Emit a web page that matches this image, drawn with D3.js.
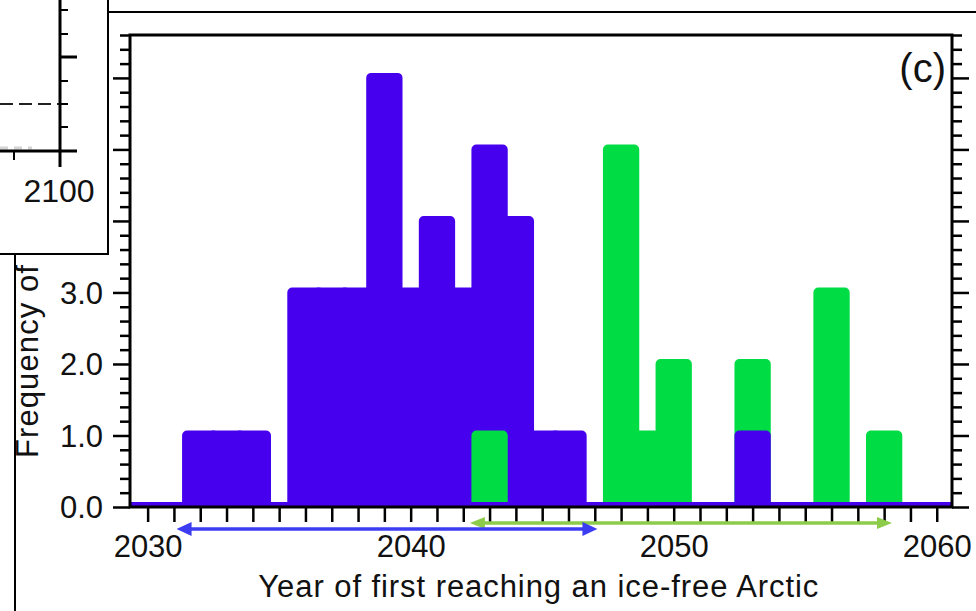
<!DOCTYPE html>
<html><head><meta charset="utf-8">
<script src="https://cdn.jsdelivr.net/npm/d3@7"></script>
<style>
html,body{margin:0;padding:0;background:#fff;}
svg{display:block;}
text{font-family:"Liberation Sans",Arial,Helvetica,sans-serif;fill:#111;}
</style>
</head><body>
<svg id="chart" width="976" height="611"></svg>
<script>
// ---- data ----
const blueYears   = [2032,2033,2034,2036,2037,2038,2039,2040,2041,2042,2043,2044,2045,2046,2053];
const blueCounts  = [1,1,1,3,3,3,6,3,4,3,5,4,1,1,1];
const greenYears  = [2043,2048,2049,2050,2053,2056,2058];
const greenCounts = [1,5,1,2,2,3,1];
const blueRange   = [2031.1, 2047.1];
const greenRange  = [2042.25, 2058.3];
const xTickLabels = ["2030","2040","2050","2060"];
const yTickLabels = ["0.0","1.0","2.0","3.0"];
const yMajorTicks = [0,1,2,3,4,5,6];
const xTitle = "Year of first reaching an ice-free Arctic";
const yTitle = "Frequency of";
const panelLabel = "(c)";
const insetLabel = "2100";

// ---- style ----
const BLUE = "#4600ee", GREEN = "#00dc44", ARROW_BLUE = "#3c3cf2", ARROW_GREEN = "#8ccc4a";
const L = 130, R = 952, T = 35, B = 507;

const svg = d3.select("#chart");
const x = d3.scaleLinear().domain([2029.33, 2060.58]).range([L, R]);
const y = d3.scaleLinear().domain([0, 6.6]).range([B, T]);

svg.append("defs").append("clipPath").attr("id","plotclip")
  .append("rect").attr("x",L).attr("y",T).attr("width",R-L).attr("height",B-T);

// ---- bars (overlaid; taller drawn first, smaller in front) ----
const bars = greenYears.map((yr,i)=>({yr, v:greenCounts[i], c:GREEN, o:0}))
  .concat(blueYears.map((yr,i)=>({yr, v:blueCounts[i], c:BLUE, o:1})));
bars.sort((a,b)=> (b.v - a.v) || (a.o - b.o));

const gb = svg.append("g").attr("clip-path","url(#plotclip)");
gb.selectAll("rect.bar").data(bars).join("rect").attr("class","bar")
  .attr("x", d=>x(d.yr-0.5)).attr("width", d=>x(d.yr+0.5)-x(d.yr-0.5))
  .attr("y", d=>y(d.v)).attr("height", d=>y(0)-y(d.v))
  .attr("fill", d=>d.c).attr("stroke", d=>d.c)
  .attr("stroke-width",10).attr("stroke-linejoin","round");
// zero baseline of the histogram
gb.append("line").attr("x1",L).attr("x2",R).attr("y1",y(0)-2.5).attr("y2",y(0)-2.5)
  .attr("stroke",BLUE).attr("stroke-width",5);

// ---- axes ----
const minor = d3.range(0,34).map(i=>i/5).filter(v=>Math.abs(v-Math.round(v))>1e-6);
function styleAxis(g){ g.select(".domain").remove(); g.selectAll("line").attr("stroke","#000").attr("stroke-width",2.5); }

// x axis
const xAx = svg.append("g").attr("transform",`translate(0,${B})`)
  .call(d3.axisBottom(x).tickValues(d3.range(2030,2061)).tickSize(15)
    .tickFormat(d=> xTickLabels.includes(String(d)) ? String(d) : ""));
styleAxis(xAx);
xAx.selectAll("text").attr("y",50).attr("dy",null).attr("font-size",31).attr("fill","#111");

// y axis left
const yMin = svg.append("g").attr("transform",`translate(${L},0)`)
  .call(d3.axisLeft(y).tickValues(minor).tickSize(10).tickFormat(""));
styleAxis(yMin);
const yMaj = svg.append("g").attr("transform",`translate(${L},0)`)
  .call(d3.axisLeft(y).tickValues(yMajorTicks).tickSize(17).tickPadding(10)
    .tickFormat(d=> yTickLabels.find(s=>parseFloat(s)===d) || ""));
styleAxis(yMaj);
yMaj.selectAll("text").attr("font-size",31).attr("dy","0.34em").attr("fill","#111");

// y axis right
const yMinR = svg.append("g").attr("transform",`translate(${R},0)`)
  .call(d3.axisRight(y).tickValues(minor).tickSize(10).tickFormat(""));
styleAxis(yMinR);
const yMajR = svg.append("g").attr("transform",`translate(${R},0)`)
  .call(d3.axisRight(y).tickValues(yMajorTicks).tickSize(17).tickFormat(""));
styleAxis(yMajR);

// frame
svg.append("rect").attr("x",L).attr("y",T).attr("width",R-L).attr("height",B-T)
  .attr("fill","none").attr("stroke","#000").attr("stroke-width",3);

// ---- range arrows ----
function arrow(range, yy, color, headL, headW, lw){
  const a = x(range[0]), b = x(range[1]);
  const g = svg.append("g");
  g.append("line").attr("x1",a+headL-2).attr("x2",b-headL+2).attr("y1",yy).attr("y2",yy)
    .attr("stroke",color).attr("stroke-width",lw);
  g.append("path").attr("d",`M${a},${yy}L${a+headL},${yy-headW}L${a+headL},${yy+headW}Z`).attr("fill",color);
  g.append("path").attr("d",`M${b},${yy}L${b-headL},${yy-headW}L${b-headL},${yy+headW}Z`).attr("fill",color);
}
arrow(greenRange, 523, ARROW_GREEN, 15, 6, 3.5);
arrow(blueRange, 529, ARROW_BLUE, 15, 7, 3.5);

// ---- titles ----
svg.append("text").attr("x",538.3).attr("y",597).attr("text-anchor","middle")
  .attr("font-size",31).attr("textLength",560).attr("lengthAdjust","spacing").text(xTitle);
svg.append("text").attr("transform","translate(38,361.5) rotate(-90)").attr("text-anchor","middle")
  .attr("font-size",31).attr("textLength",193).attr("lengthAdjust","spacing").text(yTitle);
svg.append("text").attr("x",946).attr("y",81.5).attr("text-anchor","end")
  .attr("font-size",40).text(panelLabel);

// ---- surrounding figure fragments (neighbouring panel and frame lines) ----
svg.append("line").attr("x1",108).attr("x2",976).attr("y1",12).attr("y2",12).attr("stroke","#000").attr("stroke-width",2);
svg.append("line").attr("x1",15).attr("x2",15).attr("y1",254).attr("y2",611).attr("stroke","#000").attr("stroke-width",2);

const inset = svg.append("g");
inset.append("rect").attr("x",-2).attr("y",-2).attr("width",110).attr("height",256)
  .attr("fill","#fff").attr("stroke","#000").attr("stroke-width",2);
inset.append("line").attr("x1",0).attr("x2",32).attr("y1",148).attr("y2",148).attr("stroke","#d4d4d4").attr("stroke-width",3).attr("stroke-dasharray","8,6");
inset.append("line").attr("x1",0).attr("x2",60).attr("y1",104).attr("y2",104)
  .attr("stroke","#222").attr("stroke-width",2).attr("stroke-dasharray","13,6");
inset.append("line").attr("x1",60).attr("x2",60).attr("y1",0).attr("y2",167).attr("stroke","#000").attr("stroke-width",3);
inset.append("line").attr("x1",0).attr("x2",77).attr("y1",151).attr("y2",151).attr("stroke","#000").attr("stroke-width",3);
inset.append("line").attr("x1",60).attr("x2",77).attr("y1",57).attr("y2",57).attr("stroke","#000").attr("stroke-width",3);
inset.selectAll("line.mt").data([10,34,81,104,127]).join("line").attr("class","mt")
  .attr("x1",60).attr("x2",68).attr("y1",d=>d).attr("y2",d=>d).attr("stroke","#000").attr("stroke-width",2);
inset.append("line").attr("x1",14).attr("x2",14).attr("y1",151).attr("y2",160).attr("stroke","#000").attr("stroke-width",2);
inset.append("text").attr("x",59).attr("y",202).attr("text-anchor","middle").attr("font-size",32).text(insetLabel);
</script>
</body></html>
